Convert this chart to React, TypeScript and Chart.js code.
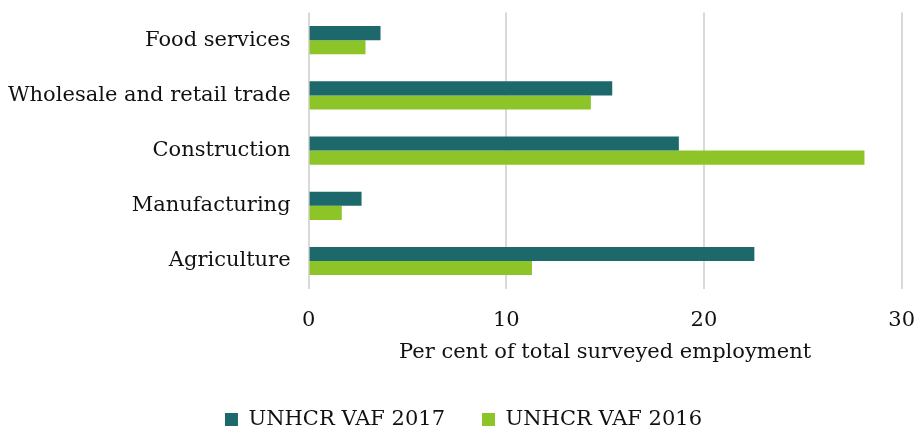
import React, { useEffect, useRef } from "react";
import { Chart, registerables } from "chart.js";

Chart.register(...registerables);

const categories = ["Food services", "Wholesale and retail trade", "Construction", "Manufacturing", "Agriculture"];
const vaf2017 = [3.64, 15.36, 18.73, 2.68, 22.55];
const vaf2016 = [2.88, 14.28, 28.12, 1.68, 11.3];
const xTicks = [0, 10, 20, 30];
const seriesNames = ["UNHCR VAF 2017", "UNHCR VAF 2016"];
const xTitle = "Per cent of total surveyed employment";

const FONT = "'DejaVu Serif', serif";
const SIZE = 21;

export default function App() {
  const ref = useRef<HTMLCanvasElement | null>(null);
  useEffect(() => {
    if (!ref.current) return;
    const chart = new Chart(ref.current, {
      type: "bar",
      data: {
        labels: categories,
        datasets: [
          {
            label: seriesNames[0],
            data: vaf2017,
            backgroundColor: "#1d686b",
            borderWidth: 0,
            barPercentage: 1,
            categoryPercentage: 0.51,
          },
          {
            label: seriesNames[1],
            data: vaf2016,
            backgroundColor: "#8dc427",
            borderWidth: 0,
            barPercentage: 1,
            categoryPercentage: 0.51,
          },
        ],
      },
      options: {
        indexAxis: "y",
        animation: false,
        responsive: false,
        maintainAspectRatio: false,
        layout: { padding: { top: 0, right: 0, left: 8, bottom: -10 } },
        plugins: {
          tooltip: { enabled: false },
          legend: {
            position: "bottom",
            labels: {
              font: { family: FONT, size: SIZE },
              color: "#111",
              boxWidth: 13,
              boxHeight: 13,
              padding: 37,
            },
          },
        },
        scales: {
          x: {
            min: 0,
            max: 30,
            afterBuildTicks: (axis: any) => {
              axis.ticks = xTicks.map((v) => ({ value: v }));
            },
            grid: {
              color: "#d9d9d9",
              lineWidth: 2,
              drawTicks: true,
              tickLength: 15,
              tickColor: "rgba(0,0,0,0)",
            },
            border: { display: false },
            ticks: {
              font: { family: FONT, size: SIZE },
              color: "#111",
              padding: 4,
            },
            title: {
              display: true,
              text: xTitle,
              font: { family: FONT, size: SIZE },
              color: "#111",
              padding: { top: 3, bottom: 7 },
            },
          },
          y: {
            grid: {
              display: true,
              color: "rgba(0,0,0,0)",
              drawTicks: true,
              tickLength: 18,
              tickColor: "rgba(0,0,0,0)",
            },
            border: { display: false },
            ticks: {
              font: { family: FONT, size: SIZE },
              color: "#111",
              padding: 0,
            },
          },
        },
      },
    });
    return () => chart.destroy();
  }, []);
  return (
    <div style={{ position: "absolute", left: 0, top: 0, width: 919, height: 430, background: "#fff" }}>
      <canvas ref={ref} width={919} height={430} style={{ width: 919, height: 430 }} />
    </div>
  );
}
